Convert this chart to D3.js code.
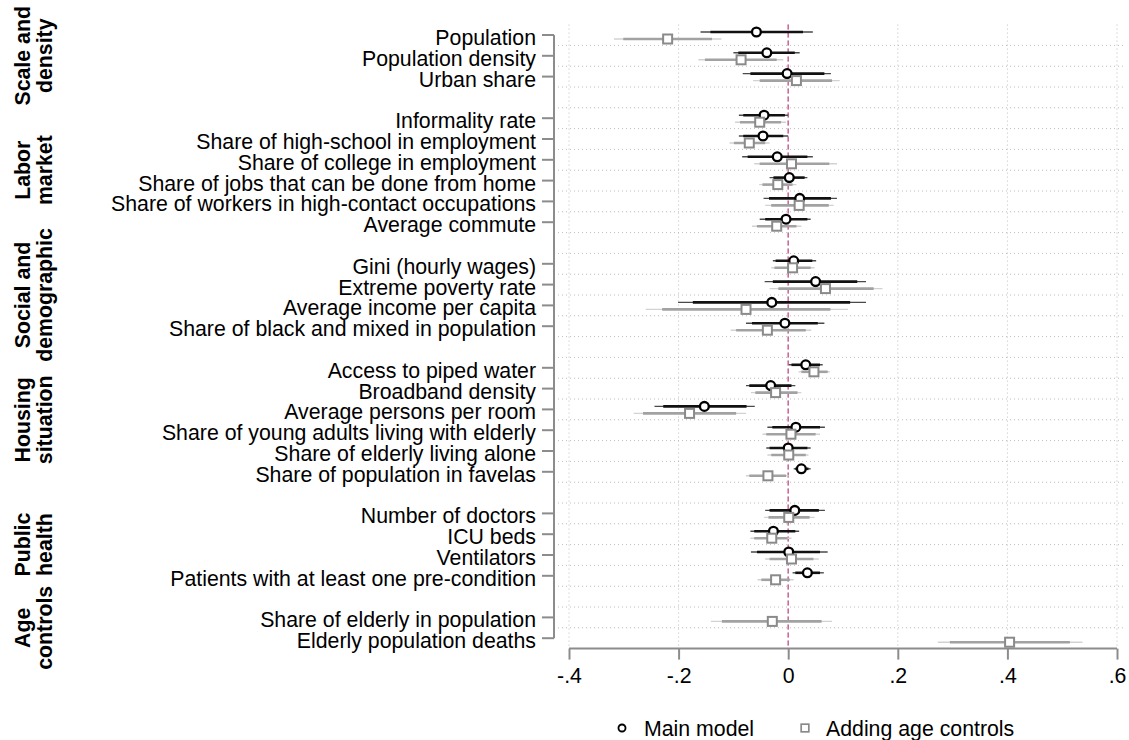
<!DOCTYPE html>
<html>
<head>
<meta charset="utf-8">
<script src="https://cdn.jsdelivr.net/npm/d3@7"></script>
<style>
  body { margin: 0; background: #fff; }
  svg { display: block; font-family: "Liberation Sans", Arial, Helvetica, sans-serif; }
</style>
</head>
<body>
<svg id="chart" width="1129" height="740"></svg>
<script>
// groups of covariates, each label split on two lines (rotated on the left)
var groupLines = [["Scale and", "density"], ["Labor", "market"], ["Social and", "demographic"],
                  ["Housing", "situation"], ["Public", "health"], ["Age", "controls"]];
var groupSizes = [3, 6, 4, 6, 4, 2];

var categories = [
  "Population", "Population density", "Urban share",
  "Informality rate", "Share of high-school in employment", "Share of college in employment",
  "Share of jobs that can be done from home", "Share of workers in high-contact occupations", "Average commute",
  "Gini (hourly wages)", "Extreme poverty rate", "Average income per capita", "Share of black and mixed in population",
  "Access to piped water", "Broadband density", "Average persons per room",
  "Share of young adults living with elderly", "Share of elderly living alone", "Share of population in favelas",
  "Number of doctors", "ICU beds", "Ventilators", "Patients with at least one pre-condition",
  "Share of elderly in population", "Elderly population deaths"
];

// main model (circles)
var mainCoef = [-0.058, -0.039, -0.002, -0.044, -0.046, -0.020, 0.002, 0.021, -0.004, 0.010, 0.050, -0.030, -0.006,
                0.032, -0.032, -0.153, 0.014, 0.000, 0.024, 0.012, -0.027, 0.001, 0.035, null, null];
var mainLo90 = [-0.142, -0.091, -0.069, -0.082, -0.082, -0.074, -0.027, -0.035, -0.042, -0.023, -0.028, -0.174, -0.066,
                0.006, -0.071, -0.228, -0.029, -0.034, 0.013, -0.034, -0.062, -0.057, 0.013, null, null];
var mainHi90 = [0.027, 0.012, 0.066, -0.006, -0.009, 0.035, 0.030, 0.078, 0.035, 0.044, 0.126, 0.113, 0.054,
                0.058, 0.006, -0.076, 0.058, 0.035, 0.037, 0.056, 0.013, 0.058, 0.058, null, null];
var mainLo95 = [-0.160, -0.100, -0.083, -0.090, -0.090, -0.084, -0.034, -0.045, -0.052, -0.028, -0.043, -0.201, -0.077,
                0.001, -0.077, -0.244, -0.038, -0.040, 0.010, -0.042, -0.069, -0.068, 0.008, null, null];
var mainHi95 = [0.045, 0.021, 0.078, 0.000, 0.000, 0.045, 0.035, 0.089, 0.041, 0.051, 0.142, 0.142, 0.066,
                0.063, 0.013, -0.061, 0.067, 0.041, 0.041, 0.067, 0.020, 0.072, 0.065, null, null];

// adding age controls (squares)
var ageCoef = [-0.220, -0.086, 0.015, -0.052, -0.071, 0.006, -0.019, 0.020, -0.021, 0.008, 0.068, -0.077, -0.038,
               0.047, -0.023, -0.180, 0.005, 0.001, -0.037, 0.001, -0.030, 0.006, -0.023, -0.029, 0.404];
var ageLo90 = [-0.301, -0.152, -0.052, -0.088, -0.099, -0.052, -0.047, -0.031, -0.057, -0.025, -0.018, -0.230, -0.095,
               0.024, -0.060, -0.265, -0.040, -0.031, -0.071, -0.036, -0.062, -0.034, -0.049, -0.121, 0.295];
var ageHi90 = [-0.139, -0.021, 0.080, -0.013, -0.042, 0.075, 0.008, 0.074, 0.015, 0.041, 0.156, 0.077, 0.032,
               0.072, 0.017, -0.095, 0.050, 0.032, -0.004, 0.039, -0.001, 0.046, 0.003, 0.061, 0.514];
var ageLo95 = [-0.318, -0.164, -0.064, -0.097, -0.107, -0.062, -0.053, -0.042, -0.066, -0.031, -0.034, -0.260, -0.105,
               0.019, -0.068, -0.282, -0.047, -0.038, -0.077, -0.044, -0.069, -0.042, -0.056, -0.141, 0.273];
var ageHi95 = [-0.122, -0.009, 0.094, -0.004, -0.034, 0.089, 0.015, 0.083, 0.024, 0.048, 0.172, 0.109, 0.042,
               0.076, 0.024, -0.077, 0.058, 0.037, 0.001, 0.048, 0.006, 0.056, 0.010, 0.080, 0.537];

var xTicks = [-0.4, -0.2, 0, 0.2, 0.4, 0.6];
var xTickLabels = ["-.4", "-.2", "0", ".2", ".4", ".6"];
var legendLabels = ["Main model", "Adding age controls"];

var svg = d3.select("#chart");
var FONT = 21.3;

// one slot per category, plus an empty slot between groups
var slotOf = [], groupSlots = [], s = 0, c = 0;
groupSizes.forEach(function(n, g){
  var first = s;
  for (var k = 0; k < n; k++) { slotOf[c++] = s++; }
  groupSlots.push([first, s - 1]);
  s++;
});
var nSlots = s - 1;

var x = d3.scaleLinear().domain([-0.4, 0.6]).range([569, 1117]);
var y = d3.scaleBand().domain(d3.range(nSlots)).range([24.6, 648.6]).paddingInner(0);
var yc = function(i){ return y(slotOf[i]) + y.bandwidth() / 2; };

var plotL = 554, plotR = 1126, plotT = 24.6, plotB = 648.6;

// horizontal dotted grid between slots
svg.append("g").selectAll("line")
  .data(d3.range(1, nSlots))
  .enter().append("line")
    .attr("x1", plotL).attr("x2", plotR)
    .attr("y1", function(d){ return y(d) }).attr("y2", function(d){ return y(d) })
    .attr("stroke", "#bdbdbd").attr("stroke-width", 1).attr("stroke-dasharray", "1,3");

// vertical dotted grid at x ticks
svg.append("g").selectAll("line")
  .data(xTicks)
  .enter().append("line")
    .attr("x1", function(d){ return x(d) }).attr("x2", function(d){ return x(d) })
    .attr("y1", plotT).attr("y2", plotB)
    .attr("stroke", "#bdbdbd").attr("stroke-width", 1).attr("stroke-dasharray", "1,3");

// zero reference line
svg.append("line")
  .attr("x1", x(0)).attr("x2", x(0)).attr("y1", plotT).attr("y2", plotB)
  .attr("stroke", "#cf6a9c").attr("stroke-width", 1.6).attr("stroke-dasharray", "5,3");

// x axis
var xAxis = svg.append("g")
  .attr("transform", "translate(0," + plotB + ")")
  .call(d3.axisBottom(x).tickValues(xTicks).tickSize(11).tickPadding(8)
        .tickFormat(function(d, i){ return xTickLabels[i] }));
xAxis.select(".domain").attr("stroke", "#8c8c8c").attr("stroke-width", 2).attr("d", "M" + x(-0.4) + ",0H" + x(0.6));
xAxis.selectAll(".tick line").attr("stroke", "#8c8c8c").attr("stroke-width", 2);
xAxis.selectAll(".tick text").attr("font-size", FONT).attr("fill", "#000").attr("font-family", null);

// y axis with category labels
var yAxis = svg.append("g")
  .attr("transform", "translate(" + plotL + ",0)")
  .call(d3.axisLeft(y).tickValues(slotOf).tickSize(12).tickPadding(6)
        .tickFormat(function(d){ return categories[slotOf.indexOf(d)] }));
yAxis.select(".domain").attr("stroke", "#8c8c8c").attr("stroke-width", 2)
  .attr("d", "M0," + yc(0) + "V" + yc(categories.length - 1));
yAxis.selectAll(".tick line").attr("stroke", "#8c8c8c").attr("stroke-width", 2);
yAxis.selectAll(".tick text").attr("font-size", FONT).attr("fill", "#000").attr("font-family", null)
  .attr("dy", "0.47em");

// group labels
groupLines.forEach(function(lines, g){
  var mid = (y(groupSlots[g][0]) + y(groupSlots[g][1]) + y.bandwidth()) / 2;
  var t = svg.append("text")
    .attr("transform", "translate(0," + mid + ") rotate(-90)")
    .attr("text-anchor", "middle").attr("font-weight", "bold").attr("font-size", FONT);
  lines.forEach(function(l, k){
    t.append("tspan").attr("x", 0).attr("y", 30 + k * 22).text(l);
  });
});

// a series: thin 95% lines, thick 90% lines, then markers
function series(coef, lo95, hi95, lo90, hi90, dy, thin, thick, marker) {
  var idx = d3.range(coef.length).filter(function(i){ return coef[i] !== null });
  var g = svg.append("g");
  g.selectAll(".ci95").data(idx).enter().append("line")
    .attr("x1", function(i){ return x(lo95[i]) }).attr("x2", function(i){ return x(hi95[i]) })
    .attr("y1", function(i){ return yc(i) + dy }).attr("y2", function(i){ return yc(i) + dy })
    .attr("stroke", thin).attr("stroke-width", 1.4);
  g.selectAll(".ci90").data(idx).enter().append("line")
    .attr("x1", function(i){ return x(lo90[i]) }).attr("x2", function(i){ return x(hi90[i]) })
    .attr("y1", function(i){ return yc(i) + dy }).attr("y2", function(i){ return yc(i) + dy })
    .attr("stroke", thick).attr("stroke-width", 2.6);
  idx.forEach(function(i){ marker(g, x(coef[i]), yc(i) + dy, 1); });
}

function circle(g, cx, cy, k) {
  g.append("circle").attr("cx", cx).attr("cy", cy).attr("r", 4.4 * k)
    .attr("fill", "#fff").attr("stroke", "#000").attr("stroke-width", 2.3 * k);
}
function square(g, cx, cy, k) {
  g.append("rect").attr("x", cx - 4.5 * k).attr("y", cy - 4.5 * k).attr("width", 9 * k).attr("height", 9 * k)
    .attr("fill", "#fff").attr("stroke", "#8a8a8a").attr("stroke-width", 2 * k);
}

series(mainCoef, mainLo95, mainHi95, mainLo90, mainHi90, -3, "#4a4a4a", "#111", circle);
series(ageCoef, ageLo95, ageHi95, ageLo90, ageHi90, 4, "#d2d2d2", "#a2a2a2", square);

// legend
var leg = svg.append("g");
circle(leg, 622, 728, 0.8);
leg.append("text").attr("x", 644).attr("y", 735.5).attr("font-size", FONT).text(legendLabels[0]);
square(leg, 805, 728, 0.85);
leg.append("text").attr("x", 826).attr("y", 735.5).attr("font-size", FONT).text(legendLabels[1]);
</script>
</body>
</html>
